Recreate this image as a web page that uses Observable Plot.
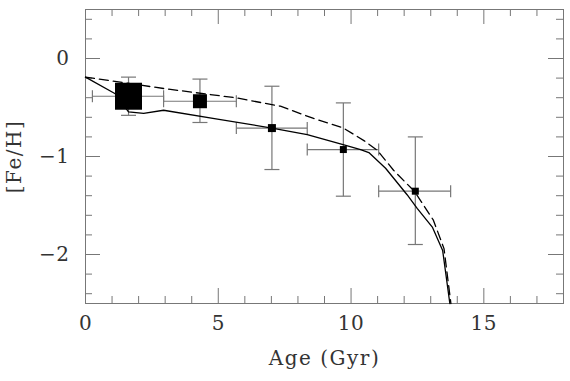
<!DOCTYPE html>
<html>
<head>
<meta charset="utf-8">
<script src="https://cdn.jsdelivr.net/npm/d3@7"></script>
<script src="https://cdn.jsdelivr.net/npm/@observablehq/plot@0.6"></script>
<style>
  html, body { margin: 0; padding: 0; background: #fff; }
</style>
</head>
<body>
<div id="chart"></div>
<script>
// ---- Data ----
const binAge   = [1.62, 4.31, 7.02, 9.71, 12.42];
const binFeH   = [-0.385, -0.436, -0.71, -0.929, -1.354];
const ageLo    = [0.26, 2.94, 5.68, 8.35, 11.04];
const ageHi    = [2.94, 5.68, 8.35, 11.04, 13.75];
const fehLo    = [-0.58, -0.653, -1.133, -1.405, -1.898];
const fehHi    = [-0.19, -0.21, -0.283, -0.453, -0.80];
const binWeight = [27, 14, 8, 7, 7];   // relative marker weight

const solidAge = [0, 1.12, 1.62, 2.19, 2.94, 4.97, 7.02, 8.35, 9.7, 10.36, 10.67, 11.3, 12.11, 12.49, 13.06, 13.45, 13.72];
const solidFeH = [-0.19, -0.36, -0.545, -0.56, -0.528, -0.618, -0.71, -0.776, -0.88, -0.929, -0.96, -1.12, -1.39, -1.53, -1.72, -1.96, -2.5];

const dashAge = [0, 2.94, 5.68, 7.34, 8.59, 9.7, 10.5, 11.0, 11.6, 12.4, 13.1, 13.5, 13.76];
const dashFeH = [-0.19, -0.306, -0.402, -0.487, -0.612, -0.708, -0.84, -0.94, -1.14, -1.36, -1.65, -1.94, -2.5];

const xMajor = [0, 5, 10, 15];
const xMinor = d3.range(1, 18).filter(v => v % 5 !== 0);
const yMajor = [0, -1, -2];
const yMinor = [0.4, 0.2, -0.2, -0.4, -0.6, -0.8, -1.2, -1.4, -1.6, -1.8, -2.2, -2.4];

const xTitle = "Age (Gyr)";
const yTitle = "[Fe/H]";

// ---- Tables ----
const bins = binAge.map((x, i) => ({x, y: binFeH[i], xlo: ageLo[i], xhi: ageHi[i], ylo: fehLo[i], yhi: fehHi[i], w: binWeight[i]}));
const solid = solidAge.map((x, i) => ({x, y: solidFeH[i]}));
const dashed = dashAge.map((x, i) => ({x, y: dashFeH[i]}));

// ---- Layout ----
const W = 570, H = 381;
const mL = 85, mR = 7, mT = 9, mB = 78;
const pw = W - mL - mR, ph = H - mT - mB;
const axisColor = "#777";
const textColor = "#333";
const font = "'DejaVu Serif', serif";
const fmt = d => d === 0 ? "0" : (d < 0 ? "\u2212" : "") + Math.abs(d);

// custom symbols
const squareSym = {draw(ctx, size) { const h = Math.sqrt(size / Math.PI); ctx.rect(-h, -h, 2 * h, 2 * h); }};
const vCap = {draw(ctx, size) { const h = Math.sqrt(size / Math.PI); ctx.moveTo(0, -h); ctx.lineTo(0, h); }};
const hCap = {draw(ctx, size) { const h = Math.sqrt(size / Math.PI); ctx.moveTo(-h, 0); ctx.lineTo(h, 0); }};

const chart = Plot.plot({
  width: W, height: H,
  marginLeft: mL, marginRight: mR, marginTop: mT, marginBottom: mB,
  x: {domain: [0, 18]},
  y: {domain: [-2.5, 0.5]},
  r: {type: "identity"},
  style: {fontFamily: font, background: "#fff"},
  marks: [
    // inward ticks
    Plot.tickX(xMajor, {x: d => d, insetTop: ph - 15, stroke: axisColor}),
    Plot.tickX(xMajor, {x: d => d, insetBottom: ph - 15, stroke: axisColor}),
    Plot.tickX(xMinor, {x: d => d, insetTop: ph - 7, stroke: axisColor}),
    Plot.tickX(xMinor, {x: d => d, insetBottom: ph - 7, stroke: axisColor}),
    Plot.tickY(yMajor, {y: d => d, insetRight: pw - 15, stroke: axisColor}),
    Plot.tickY(yMajor, {y: d => d, insetLeft: pw - 15, stroke: axisColor}),
    Plot.tickY(yMinor, {y: d => d, insetRight: pw - 7, stroke: axisColor}),
    Plot.tickY(yMinor, {y: d => d, insetLeft: pw - 7, stroke: axisColor}),
    Plot.frame({stroke: axisColor}),
    // tick labels
    Plot.axisX({ticks: xMajor, tickSize: 0, tickPadding: 12, tickFormat: fmt, fontSize: 20, fontFamily: font, fill: textColor, label: null}),
    Plot.axisY({ticks: yMajor, tickSize: 0, tickPadding: 16, tickFormat: fmt, fontSize: 20, fontFamily: font, fill: textColor, label: null}),
    // axis titles
    Plot.text([xTitle], {frameAnchor: "bottom", textAnchor: "middle", dy: 61, lineAnchor: "bottom", fontSize: 20, fontFamily: font, fill: textColor}),
    Plot.text([yTitle], {frameAnchor: "left", textAnchor: "middle", dx: -71, rotate: -90, fontSize: 20, fontFamily: font, fill: textColor}),
    // error bars
    Plot.link(bins, {x1: "xlo", x2: "xhi", y1: "y", y2: "y", stroke: axisColor, strokeWidth: 1.2}),
    Plot.link(bins, {x1: "x", x2: "x", y1: "ylo", y2: "yhi", stroke: axisColor, strokeWidth: 1.2}),
    Plot.dot(bins, {x: "xlo", y: "y", r: 6, symbol: vCap, stroke: axisColor, strokeWidth: 1.2, fill: "none"}),
    Plot.dot(bins, {x: "xhi", y: "y", r: 6, symbol: vCap, stroke: axisColor, strokeWidth: 1.2, fill: "none"}),
    Plot.dot(bins, {x: "x", y: "ylo", r: 7.5, symbol: hCap, stroke: axisColor, strokeWidth: 1.2, fill: "none"}),
    Plot.dot(bins, {x: "x", y: "yhi", r: 7.5, symbol: hCap, stroke: axisColor, strokeWidth: 1.2, fill: "none"}),
    // model curves
    Plot.line(dashed, {x: "x", y: "y", stroke: "#000", strokeWidth: 1.3, strokeDasharray: "9,5"}),
    Plot.line(solid, {x: "x", y: "y", stroke: "#000", strokeWidth: 1.3}),
    // binned data
    Plot.dot(bins, {x: "x", y: "y", r: d => d.w / 2, symbol: squareSym, fill: "#000", stroke: "none"})
  ]
});
// wider letter spacing like the original's plotting font
d3.select(chart).selectAll("text").each(function () {
  const t = this.textContent;
  if (t === xTitle || t === yTitle) this.style.letterSpacing = "1.5px";
  else this.style.letterSpacing = "0.5px";
});
document.getElementById("chart").appendChild(chart);
</script>
</body>
</html>
